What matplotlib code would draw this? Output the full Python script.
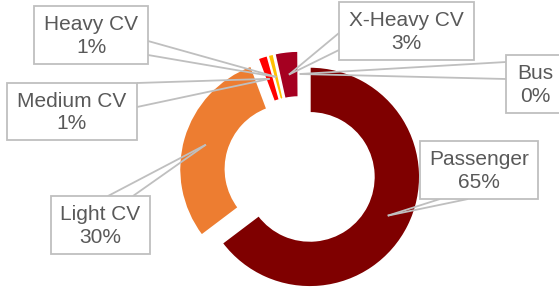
import matplotlib
matplotlib.use('Agg')
import matplotlib.pyplot as plt
from matplotlib.patches import Rectangle
import numpy as np

# data (share of vehicle segments, %)
categories = ["Passenger", "Light CV", "Medium CV", "Heavy CV", "X-Heavy CV", "Bus"]
shares = [64.7, 29.6, 1.4, 0.8, 3.4, 0.1]
colors = ["#7F0000", "#ED7D31", "#FF0000", "#FFC000", "#A50021", "#C00000"]

# layout in pixel coords (y downwards)
W, H = 559, 290
center = (300, 172)
radius = 110
ring = 46
# label boxes: (x0, y0, x1, y1) and the two base points of the pointer
boxes = {
    "Passenger":  ((420, 141, 538, 199), [(440, 199), (468, 199)]),
    "Light CV":   ((51, 196, 150, 254), [(108, 196), (133, 196)]),
    "Medium CV":  ((7, 83, 137, 140), [(137, 83), (137, 107)]),
    "Heavy CV":   ((34, 6, 148, 64), [(148, 41), (148, 55)]),
    "X-Heavy CV": ((339, 2, 474, 60), [(339, 33), (339, 50)]),
    "Bus":        ((506, 55, 565, 113), [(506, 62), (506, 79)]),
}
line_col = "#BFBFBF"
text_col = "#595959"

fig = plt.figure(figsize=(W / 100, H / 100), dpi=100)
ax = fig.add_axes([0, 0, 1, 1])

# y axis is flipped, so counterclock in data = clockwise on screen
wedges, _ = ax.pie(shares, colors=colors, radius=radius, center=center,
                   explode=[radius * 0.1] * len(shares), startangle=-90,
                   counterclock=True,
                   wedgeprops=dict(width=ring, edgecolor="white", linewidth=1.2))

for w, name, v in zip(wedges, categories, shares):
    th = np.radians((w.theta1 + w.theta2) / 2)
    r = w.r - w.width / 2
    px, py = w.center[0] + r * np.cos(th), w.center[1] + r * np.sin(th)
    (x0, y0, x1, y1), base = boxes[name]
    for bx, by in base:
        ax.plot([bx, px], [by, py], color=line_col, lw=1.3,
                solid_capstyle="butt", zorder=3)
    ax.add_patch(Rectangle((x0, y0), x1 - x0, y1 - y0, facecolor="white",
                           edgecolor=line_col, lw=1.3, zorder=4))
    ax.text((x0 + x1) / 2, (y0 + y1) / 2 + 1, f"{name}\n{v:.0f}%", ha="center",
            va="center", fontsize=15, color=text_col, linespacing=1.25,
            family="Liberation Sans", zorder=5)

ax.set_xlim(0, W)
ax.set_ylim(H, 0)
ax.set_aspect("equal")
ax.axis("off")
fig.savefig("out.png", dpi=100)
